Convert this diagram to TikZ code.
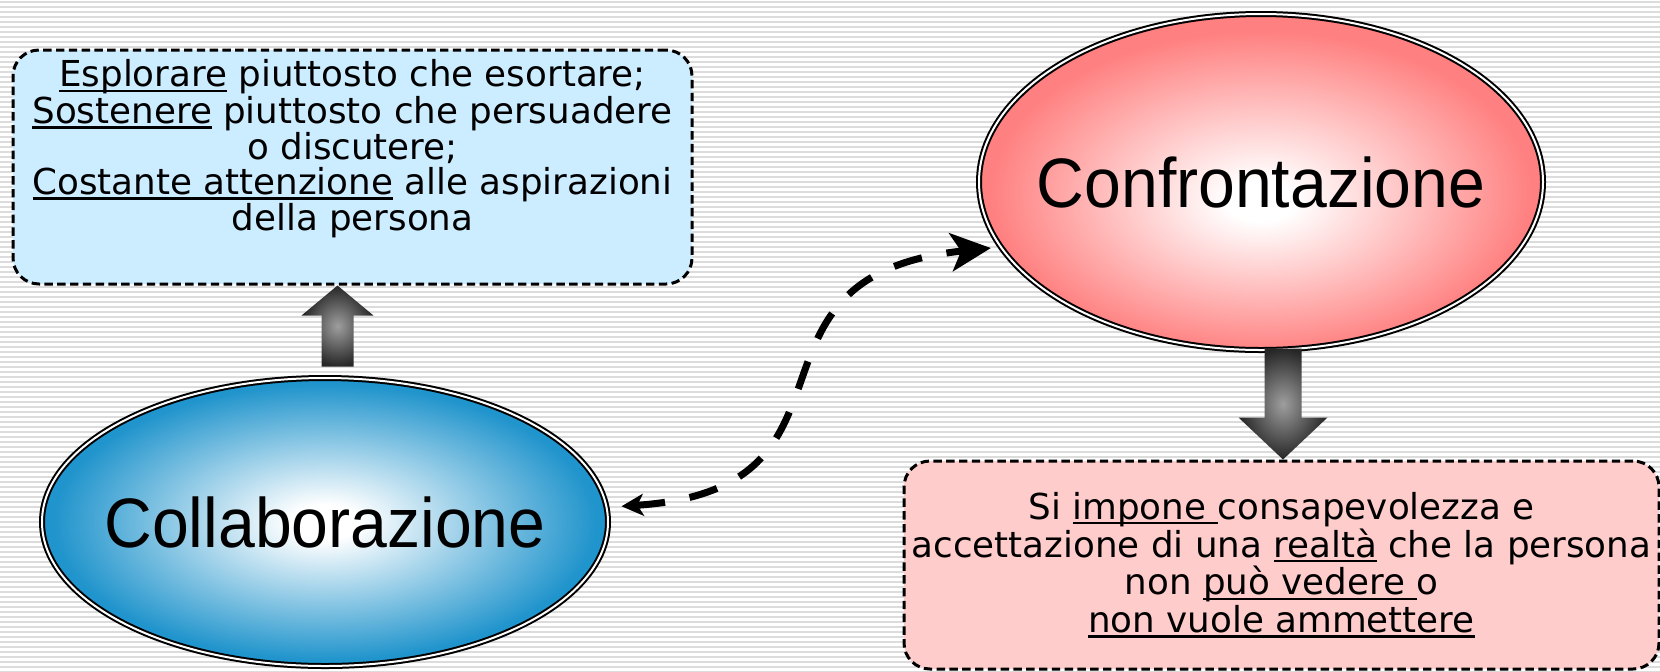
\documentclass[tikz,border=0pt]{standalone}
\usepackage{fontspec}
\setmainfont{DejaVu Sans}
\newfontfamily\titlefont[FakeStretch=0.945]{Liberation Sans}
\usetikzlibrary{arrows.meta,shapes.geometric,calc,positioning}

\definecolor{boxblue}{RGB}{204,236,255}
\definecolor{boxpink}{RGB}{255,204,204}
\definecolor{collabblue}{RGB}{32,148,204}
\definecolor{confred}{RGB}{255,128,128}
\definecolor{stripe}{RGB}{220,220,220}

\newcommand\sotto[1]{\setbox0=\hbox{#1}\rlap{\rule[-2.6pt]{\wd0}{1.2pt}}\box0\relax}

\pgfdeclareradialshading{collabshade}{\pgfpoint{0bp}{0bp}}{%
  color(0bp)=(white); color(3bp)=(white); color(24bp)=(collabblue); color(50bp)=(collabblue)}
\pgfdeclareradialshading{confshade}{\pgfpoint{0bp}{-3bp}}{%
  color(0bp)=(white); color(3bp)=(white); color(24bp)=(confred); color(50bp)=(confred)}

\tikzset{%
  >=Stealth,
  textbox/.style={rectangle,rounded corners=13pt,draw=black,line width=1.5pt,
    dash pattern=on 4.2pt off 2.2pt,inner sep=0pt},
  boxtext/.style={align=center,inner sep=0pt,font=\fontsize{17.85}{17.2}\selectfont},
  bubble/.style={ellipse,draw=black,line width=1pt,double=white,double distance=1pt,
    inner sep=0pt},
  bubbletext/.style={inner sep=0pt,font=\titlefont\fontsize{35}{42}\selectfont},
  blockarrow/.style={shading=radial,inner color=black!38,outer color=black!85},
  dashlink/.style={line width=3.5pt,dash pattern=on 14.5pt off 12.5pt}
}

\begin{document}
\begin{tikzpicture}[x=0.5pt,y=-0.5pt]
	\useasboundingbox (0,0) rectangle (1660,671);
	% background stripes
	\foreach \s in {0,5,...,670}
	\draw[stripe,line width=1pt] (0,\s+2) -- (1660,\s+2);
	
	\node[textbox,fill=boxblue,minimum width=339.5pt,minimum height=117pt] (explore) at (352.5,167) {};
	\node[boxtext] (exploretext) at (352.5,149) {\sotto{Esplorare} piuttosto che esortare;\\
		\sotto{Sostenere} piuttosto che persuadere\\ o discutere;\\
		\sotto{Costante attenzione} alle aspirazioni\\ della persona};
	\node[textbox,fill=boxpink,minimum width=377.5pt,minimum height=104pt,
		boxtext,font=\fontsize{17.85}{18.9}\selectfont] (persona) at (1281.5,565) {Si \sotto{impone }consapevolezza e\\
		accettazione di una \sotto{realtà} che la persona\\
		non \sotto{può vedere }o\\ \sotto{non vuole ammettere}};
	
	\node[bubble,shading=collabshade,minimum width=283pt,minimum height=144pt,
		label={[bubbletext]center:Collaborazione}] (collab) at (325,522) {};
	\node[bubble,shading=confshade,minimum width=282pt,minimum height=168pt,
		label={[bubbletext]center:Confrontazione}] (confr) at (1261,182) {};
	
	% block arrows
	\path[blockarrow] ($(explore.south)+(-15,0)$) -- ++(36,30) -- ++(-20,0) -- ++(0,51)
		-- ++(-32,0) -- ++(0,-51) -- ++(-20,0) -- cycle;
	\path[blockarrow] ($(persona.north)+(1.5,0)$) -- ++(44.5,-42) -- ++(-26,0) -- ++(0,-69)
		-- ++(-37,0) -- ++(0,69) -- ++(-26,0) -- cycle;
	
	\draw[dashlink,{Stealth[length=11pt,width=11pt,inset=3pt]}-{Stealth[length=20pt,width=19pt,inset=5pt]},
		shorten <=7pt,shorten >=4.5pt]
		(collab.3) .. controls +(275,-18) and +(-280,29) .. (confr.194);
\end{tikzpicture}
\end{document}
